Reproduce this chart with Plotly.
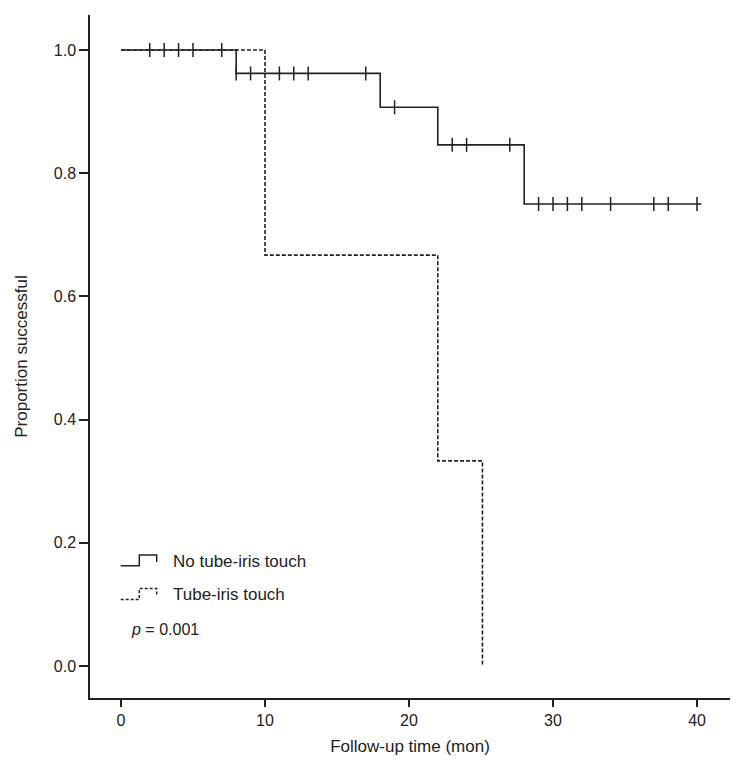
import plotly.graph_objects as go

# ---- data ----
no_touch_time = [0, 8, 18, 22, 28, 40.3]
no_touch_surv = [1.0, 0.962, 0.907, 0.846, 0.750, 0.750]
no_touch_cens_time = [2, 3, 4, 5, 7, 8, 9, 11, 12, 13, 17, 19, 23, 24, 27,
                      29, 30, 31, 32, 34, 37, 38, 40]
no_touch_cens_surv = [1.0, 1.0, 1.0, 1.0, 1.0, 0.962, 0.962, 0.962, 0.962, 0.962, 0.962,
                      0.907, 0.846, 0.846, 0.846,
                      0.750, 0.750, 0.750, 0.750, 0.750, 0.750, 0.750, 0.750]

touch_time = [0, 10, 22, 25.1]
touch_surv = [1.0, 0.667, 0.333, 0.0]

x_ticks = [0, 10, 20, 30, 40]
y_ticks = [0.0, 0.2, 0.4, 0.6, 0.8, 1.0]
y_tick_labels = ["0.0", "0.2", "0.4", "0.6", "0.8", "1.0"]

legend_labels = ["No tube-iris touch", "Tube-iris touch"]
p_text = "<i>p</i> = 0.001"

LINE = "#222222"
FONT = "Liberation Sans, Arial, Helvetica, sans-serif"

W, H = 746, 775
ML, MR, MT, MB = 90, 16, 15, 77
PW, PH = W - ML - MR, H - MT - MB


def px(x):
    return (x - ML) / PW


def py(y):
    return (H - MB - y) / PH


fig = go.Figure()

fig.add_trace(go.Scatter(
    x=touch_time, y=touch_surv, mode="lines", line_shape="hv",
    line=dict(color=LINE, width=1.6, dash="4px,2px"), showlegend=False))

fig.add_trace(go.Scatter(
    x=no_touch_time, y=no_touch_surv, mode="lines", line_shape="hv",
    line=dict(color=LINE, width=1.6), showlegend=False))

fig.add_trace(go.Scatter(
    x=no_touch_cens_time, y=no_touch_cens_surv, mode="markers",
    marker=dict(symbol="line-ns-open", size=10, color=LINE,
                line=dict(color=LINE, width=1.5)),
    showlegend=False))

# legend glyphs (step symbols) drawn as shapes in paper coords
def glyph(y_bottom, y_top, dash):
    xs = [120.7, 139.3, 139.3, 156.7, 156.7]
    ys = [y_bottom, y_bottom, y_top, y_top, y_top + 7]
    path = "M " + " L ".join(f"{px(a)},{py(b)}" for a, b in zip(xs, ys))
    fig.add_shape(type="path", path=path, xref="paper", yref="paper",
                  line=dict(color=LINE, width=1.5, dash=dash))

glyph(565.7, 555.0, "solid")
glyph(599.5, 588.5, "3px,2px")

fig.add_annotation(x=px(171), y=py(561.5), xref="paper", yref="paper",
                   text=legend_labels[0], showarrow=False, xanchor="left", yanchor="middle",
                   font=dict(size=17, color="#222"))
fig.add_annotation(x=px(171), y=py(594.5), xref="paper", yref="paper",
                   text=legend_labels[1], showarrow=False, xanchor="left", yanchor="middle",
                   font=dict(size=17, color="#222"))
fig.add_annotation(x=px(129), y=py(629.5), xref="paper", yref="paper",
                   text=p_text, showarrow=False, xanchor="left", yanchor="middle",
                   font=dict(size=16, color="#222"))

fig.update_layout(
    width=W, height=H,
    margin=dict(l=ML, r=MR, t=MT, b=MB, autoexpand=False),
    paper_bgcolor="white", plot_bgcolor="white",
    font=dict(family=FONT, size=16, color="#222"),
    showlegend=False,
    xaxis=dict(
        range=[-2.15, 42.29], tickvals=x_ticks, showgrid=False, zeroline=False,
        showline=True, linecolor=LINE, linewidth=1.5, automargin=False,
        ticks="outside", ticklen=7, tickwidth=1.5, tickcolor=LINE,
        tickfont=dict(size=16),
        title=dict(text="Follow-up time (mon)", font=dict(size=17), standoff=12),
    ),
    yaxis=dict(
        range=[-0.0519, 1.0568], tickvals=y_ticks, ticktext=y_tick_labels,
        showgrid=False, zeroline=False, automargin=False,
        showline=True, linecolor=LINE, linewidth=1.5,
        ticks="outside", ticklen=9, tickwidth=1.5, tickcolor=LINE,
        tickfont=dict(size=16),
        title=dict(text="Proportion successful", font=dict(size=17), standoff=22),
    ),
)

fig.write_html("out.html", config={"displayModeBar": False},
               post_script="document.body.style.margin='0';")
